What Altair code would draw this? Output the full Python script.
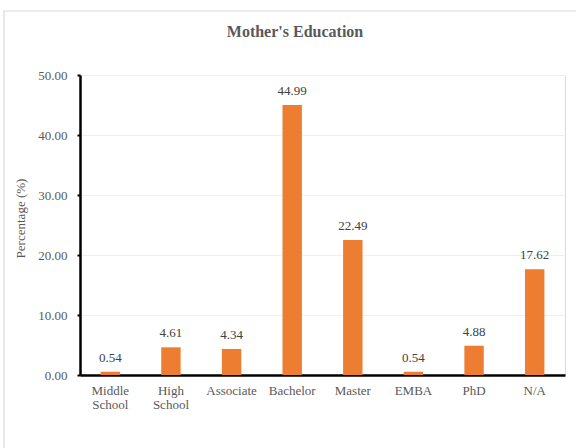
import altair as alt
import pandas as pd

# Mother's education level distribution (%)
categories = ["Middle School", "High School", "Associate", "Bachelor",
              "Master", "EMBA", "PhD", "N/A"]
percentages = [0.54, 4.61, 4.34, 44.99, 22.49, 0.54, 4.88, 17.62]
value_labels = ["0.54", "4.61", "4.34", "44.99", "22.49", "0.54", "4.88", "17.62"]
y_ticks = [0, 10, 20, 30, 40, 50]
chart_title = "Mother's Education"

df = pd.DataFrame({"category": categories, "pct": percentages, "label": value_labels})

SERIF = "'Times New Roman', 'Liberation Serif', Tinos, serif"
GRAY = "#595959"
W, H = 485, 300

x_enc = alt.X(
    "category:N", sort=categories, title=None,
    scale=alt.Scale(paddingInner=0.68, paddingOuter=0.34),
    axis=alt.Axis(
        labelExpr="split(datum.label, ' ')",
        labelAngle=0, labelFont=SERIF, labelFontSize=13, labelColor=GRAY,
        labelPadding=9, labelLineHeight=14, ticks=False,
        domainColor="black", domainWidth=2.5, labelBaseline="top",
    ),
)

y_enc = alt.Y(
    "pct:Q", title="Percentage (%)",
    scale=alt.Scale(domain=[0, 50], nice=False),
    axis=alt.Axis(
        values=y_ticks, format=".2f", labelFont=SERIF, labelFontSize=13,
        labelColor=GRAY, labelPadding=10, tickSize=3, tickColor="black",
        tickWidth=2, domainColor="black", domainWidth=2.5,
        grid=True, gridColor="#efefef", gridWidth=1.2,
        titleFont=SERIF, titleFontSize=13, titleColor=GRAY,
        titleFontWeight="normal", titlePadding=10, titleY=143,
    ),
)

# Light outer frame around the whole figure
frame = alt.Chart(pd.DataFrame({"k": [0]})).mark_rect(
    fill=None, stroke="#d9d9d9", strokeWidth=1.2, clip=False
).encode(
    x=alt.value(-76), x2=alt.value(W + 40),
    y=alt.value(-64), y2=alt.value(H + 90),
)

# Chart heading, drawn as text so the frame does not push it away
heading = alt.Chart(pd.DataFrame({"t": [chart_title]})).mark_text(
    font=SERIF, fontSize=16, fontWeight="bold", color=GRAY,
    align="center", baseline="alphabetic",
).encode(x=alt.value(215), y=alt.value(-38), text="t:N")

bars = alt.Chart(df).mark_bar(color="#ED7D31").encode(x=x_enc, y=y_enc)

labels = alt.Chart(df).mark_text(
    font=SERIF, fontSize=13, color="#404040", baseline="middle", dy=-14
).encode(
    x=alt.X("category:N", sort=categories),
    y=alt.Y("pct:Q"),
    text="label:N",
)

chart = alt.layer(frame, heading, bars, labels).properties(
    width=W,
    height=H,
    autosize=alt.AutoSizeParams(type="none"),
    padding={"left": 80, "top": 75, "right": 11, "bottom": 73},
).configure_view(stroke=None).configure(background="white")

chart.save("out.html", embed_options={"renderer": "svg", "actions": False})
